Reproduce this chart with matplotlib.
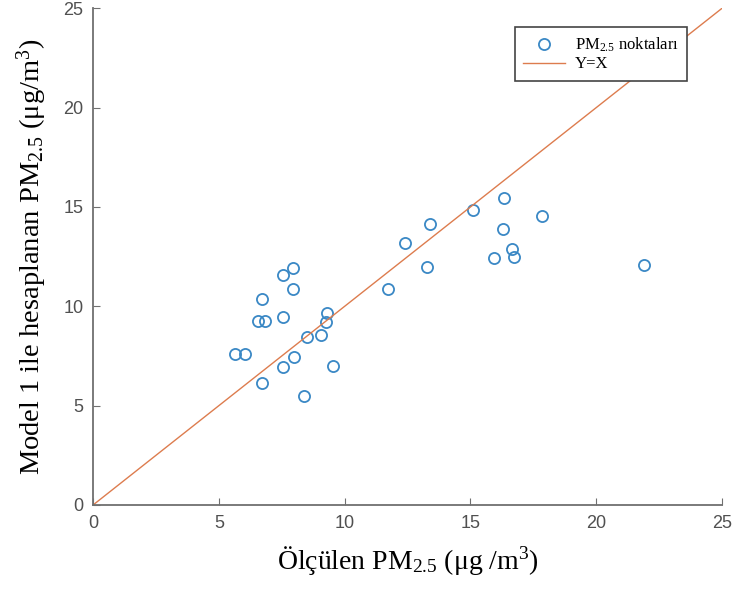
import matplotlib.pyplot as plt

plt.rcParams["mathtext.fontset"] = "custom"
plt.rcParams["mathtext.rm"] = "Liberation Serif"
plt.rcParams["mathtext.it"] = "Liberation Serif:italic"

measured = [5.64, 6.04, 6.72, 6.56, 6.84, 6.72, 7.55, 7.95, 7.55, 7.95,
            7.55, 7.99, 8.51, 8.39, 9.06, 9.30, 9.26, 9.54,
            11.72, 12.40, 13.39, 13.27, 15.10, 16.34, 16.30, 16.65,
            16.73, 15.94, 17.85, 21.90]
modelled = [7.60, 7.60, 10.36, 9.26, 9.26, 6.14, 11.57, 11.92, 9.46, 10.87,
            6.94, 7.44, 8.45, 5.48, 8.55, 9.66, 9.21, 6.99,
            10.87, 13.18, 14.13, 11.97, 14.84, 15.44, 13.88, 12.88,
            12.47, 12.42, 14.54, 12.07]
line_xy = [0, 25]
ticks = [0, 5, 10, 15, 20, 25]

serif = "Liberation Serif"
sans = "Liberation Sans"

fig = plt.figure(figsize=(7.33, 5.92), dpi=100)
ax = fig.add_axes([0.127, 0.147, 0.858, 0.839])

ax.plot(measured, modelled, "o", mfc="none", mec="#3a88c5", mew=1.3, ms=8,
        label="PM$_{2.5}$ noktaları")
ax.plot(line_xy, line_xy, color="#dd7c4e", lw=1.0, label="Y=X")

ax.set_xlim(0, 25)
ax.set_ylim(0, 25)
ax.set_xticks(ticks)
ax.set_yticks(ticks)
for side in ["top", "right"]:
    ax.spines[side].set_visible(False)
for side in ["left", "bottom"]:
    ax.spines[side].set_color("#707070")
    ax.spines[side].set_linewidth(1.3)
ax.tick_params(direction="in", length=5, color="#707070", labelcolor="#505050", pad=7)
for lbl in ax.get_xticklabels() + ax.get_yticklabels():
    lbl.set_fontfamily(sans)
    lbl.set_fontsize(13)

ax.set_xlabel("Ölçülen PM$_{2.5}$ (μg /m$^3$)", fontfamily=serif, fontsize=20, labelpad=9)
ax.set_ylabel("Model 1 ile hesaplanan PM$_{2.5}$ (μg/m$^3$)", fontfamily=serif, fontsize=20.5,
              labelpad=10)

leg = ax.legend(loc="upper left", bbox_to_anchor=(0.671, 0.962), prop={"family": serif, "size": 12},
                fancybox=False, framealpha=1, edgecolor="#444444", borderpad=0.5,
                handlelength=2.5, handletextpad=0.6, labelspacing=0.15, borderaxespad=0)
leg.get_frame().set_linewidth(1.2)

fig.savefig("out.png", dpi=100)
